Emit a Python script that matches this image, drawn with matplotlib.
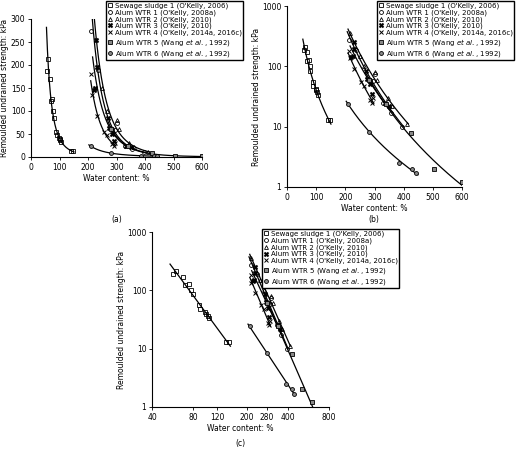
import numpy as np
import matplotlib
matplotlib.use("Agg")
import matplotlib.pyplot as plt
from matplotlib.ticker import FixedLocator, NullLocator, FixedFormatter

labels = ["Sewage sludge 1 (O'Kelly, 2006)", "Alum WTR 1 (O'Kelly, 2008a)",
          "Alum WTR 2 (O'Kelly, 2010)", "Alum WTR 3 (O'Kelly, 2010)",
          "Alum WTR 4 (O'Kelly, 2014a, 2016c)", r"Alum WTR 5 (Wang $\it{et\ al.}$, 1992)",
          r"Alum WTR 6 (Wang $\it{et\ al.}$, 1992)"]
w_ss = [57, 60, 68, 70, 75, 78, 80, 88, 90, 98, 100, 103, 105, 140, 148]
s_ss = [187, 213, 170, 122, 127, 100, 85, 55, 47, 42, 40, 37, 33, 13, 13]
w_1 = [212, 235, 285, 295, 300, 330, 355, 395]
s_1 = [275, 190, 60, 58, 75, 25, 17, 10]
w_2 = [215, 250, 265, 300, 310, 345, 360, 410]
s_2 = [360, 150, 100, 80, 60, 30, 22, 11]
w_3 = [220, 225, 228, 230, 270, 275, 285, 290, 335, 350]
s_3 = [145, 150, 255, 195, 85, 62, 50, 35, 25, 22]
w_4 = [212, 215, 230, 255, 265, 285, 292, 295]
s_4 = [180, 135, 90, 55, 47, 28, 25, 30]
w_5 = [280, 340, 425, 505, 600]
s_5 = [60, 24, 8, 2, 1.2]
w_6 = [210, 280, 385, 430, 442]
s_6 = [24, 8.3, 2.5, 2.0, 1.7]

series = [(w_ss, s_ss, 's', 'none'), (w_1, s_1, 'o', 'none'), (w_2, s_2, '^', 'none'),
          (w_3, s_3, 'X', 'k'), (w_4, s_4, 'x', 'k'), (w_5, s_5, 's', '#888'),
          (w_6, s_6, 'o', '#888')]

plt.rcParams['font.family'] = 'DejaVu Sans'
plt.rcParams['mathtext.fontset'] = 'dejavusans'
fig = plt.figure(figsize=(5.2, 4.49), dpi=100)
W, H = 520, 449
def ax_at(x0, y0, x1, y1):
    return fig.add_axes([x0 / W, 1 - y1 / H, (x1 - x0) / W, (y1 - y0) / H])

axa = ax_at(31, 19, 202, 157)
axb = ax_at(287, 6, 462, 187)
axc = ax_at(152, 232, 329, 407)

def draw(ax, lx, ly):
    for (w, s, m, fc), lab in zip(series, labels):
        w = np.array(w, float); s = np.array(s, float)
        b, a = np.polyfit(np.log(w), np.log(s), 1)
        span = w.max() - w.min()
        ww = np.linspace(w.min() - 0.03 * span, w.max() + 0.03 * span, 200)
        ax.plot(ww, np.exp(a) * ww ** b, color='k', lw=0.9)
        if m == 'x':
            ax.plot(w, s, ls='none', marker='x', ms=3, mew=0.7, color='k', label=lab)
        elif fc == 'k':
            ax.plot(w, s, ls='none', marker='X', ms=3.5, mew=0.3, mfc='k', mec='k', label=lab)
        else:
            ax.plot(w, s, ls='none', marker=m, ms=2.8, mew=0.6, mfc=fc, mec='k', label=lab)
    for sp in ['top', 'right']:
        ax.spines[sp].set_visible(False)
    ax.tick_params(labelsize=5.5, length=2, width=0.6, pad=2)
    ax.set_xlabel('Water content: %', fontsize=5.5, labelpad=2)
    ax.set_ylabel('Remoulded undrained strength: kPa', fontsize=5.5, labelpad=1)
    ax.legend(loc='upper left', bbox_to_anchor=(lx / W, 1 - ly / H), bbox_transform=fig.transFigure,
              fontsize=5, frameon=True, fancybox=False, edgecolor='k', handlelength=0.8,
              handletextpad=0.3, borderpad=0.2, labelspacing=0.05, framealpha=1, borderaxespad=0)

draw(axa, 106, 1)
axa.set_xlim(0, 600); axa.set_ylim(0, 300)
axa.set_xticks(range(0, 601, 100)); axa.set_yticks(range(0, 301, 50))

draw(axb, 377, 1)
axb.set_yscale('log')
axb.set_xlim(0, 600); axb.set_ylim(1, 1000)
axb.set_xticks(range(0, 601, 100))
axb.yaxis.set_major_locator(FixedLocator([1, 10, 100, 1000]))
axb.yaxis.set_major_formatter(FixedFormatter(['1', '10', '100', '1000']))
axb.yaxis.set_minor_locator(NullLocator())

draw(axc, 262, 229)
axc.set_xscale('log'); axc.set_yscale('log')
axc.set_xlim(40, 800); axc.set_ylim(1, 1000)
axc.xaxis.set_major_locator(FixedLocator([40, 80, 120, 200, 280, 400, 800]))
axc.xaxis.set_major_formatter(FixedFormatter(['40', '80', '120', '200', '280', '400', '800']))
axc.xaxis.set_minor_locator(NullLocator())
axc.yaxis.set_major_locator(FixedLocator([1, 10, 100, 1000]))
axc.yaxis.set_major_formatter(FixedFormatter(['1', '10', '100', '1000']))
axc.yaxis.set_minor_locator(NullLocator())

fig.text(117 / W, 1 - 222 / H, '(a)', fontsize=5.5, ha='center')
fig.text(374 / W, 1 - 222 / H, '(b)', fontsize=5.5, ha='center')
fig.text(240 / W, 1 - 446 / H, '(c)', fontsize=5.5, ha='center')
fig.savefig('out.png', dpi=100)
